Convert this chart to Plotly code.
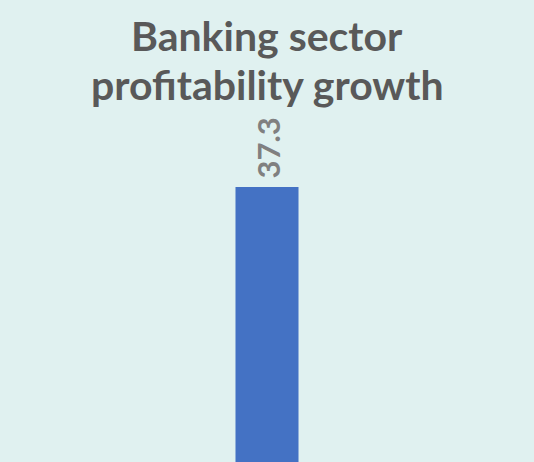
import plotly.graph_objects as go

# data
categories  = ['Banking sector']
growth      = [37.3]
labels      = ['37.3']
title_lines = ['Banking sector', 'profitability growth']

bg_color   = '#E0F1F0'
bar_color  = '#4472C4'

fig = go.Figure()
fig.add_trace(go.Bar(
    x=categories,
    y=growth,
    width=0.118,
    marker=dict(color=bar_color, line=dict(width=0)),
    hoverinfo='skip',
))

# wertbeschriftung ueber dem balken, gedreht
for cat, val, lab in zip(categories, growth, labels):
    fig.add_annotation(
        x=cat, y=val, xref='x', yref='y',
        text=lab, textangle=-90,
        xanchor='center', yanchor='bottom', yshift=6, xshift=1,
        showarrow=False,
        font=dict(family='Lato', size=31, color='#808080', weight='bold'),
    )

# titel, zwei zeilen einzeln gesetzt
for i, line in enumerate(title_lines):
    fig.add_annotation(
        text=line,
        x=0.5, xref='paper', xanchor='center',
        y=1, yref='paper', yanchor='top', yshift=-9 - 49 * i,
        showarrow=False,
        font=dict(family='Lato', size=41, color='#595959', weight='bold'),
    )

fig.update_layout(
    width=534,
    height=462,
    margin=dict(l=0, r=0, t=0, b=0),
    paper_bgcolor=bg_color,
    plot_bgcolor=bg_color,
    showlegend=False,
    xaxis=dict(visible=False, range=[-0.5, 0.5]),
    yaxis=dict(visible=False, range=[5, 59.26]),
)

fig.write_html('out.html', config={'displayModeBar': False},
               post_script="document.body.style.margin='0';document.body.style.overflow='hidden';")
